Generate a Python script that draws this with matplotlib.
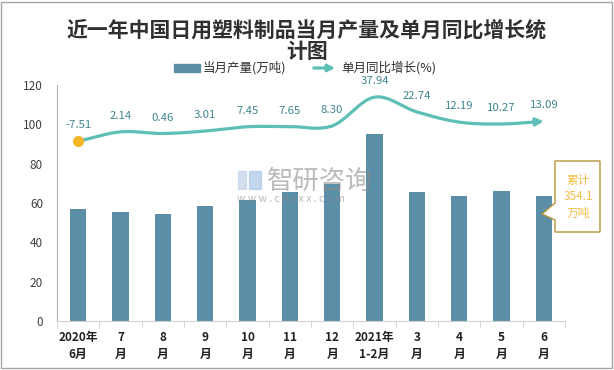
import numpy as np
import matplotlib
matplotlib.use('Agg')
import matplotlib.pyplot as plt
from matplotlib.patches import Polygon, Rectangle

plt.rcParams['font.family'] = ['Noto Sans CJK SC', 'DejaVu Sans']

# 数据
months = ['2020年\n6月', '7\n月', '8\n月', '9\n月', '10\n月', '11\n月', '12\n月',
          '2021年\n1-2月', '3\n月', '4\n月', '5\n月', '6\n月']
output = [56.9, 55.4, 54.4, 58.5, 61.5, 65.6, 69.6, 95.0, 65.5, 63.8, 66.3, 63.5]
growth = [-7.51, 2.14, 0.46, 3.01, 7.45, 7.65, 8.30, 37.94, 22.74, 12.19, 10.27, 13.09]
total_text = '累计\n354.1\n万吨'

bar_color = '#5b8fa8'
line_color = '#5dbfb5'
label_color = '#3f8590'
W, H = 614, 370


def fx(px):
    return px / W


def fy(py):
    return 1 - py / H


def smooth(x, y, n=24):
    # Catmull-Rom 平滑曲线
    x = np.asarray(x, float)
    y = np.asarray(y, float)
    px = np.concatenate([[2 * x[0] - x[1]], x, [2 * x[-1] - x[-2]]])
    py = np.concatenate([[2 * y[0] - y[1]], y, [2 * y[-1] - y[-2]]])
    xs, ys = [], []
    for i in range(1, len(px) - 2):
        t = np.linspace(0, 1, n, endpoint=False)
        for arr, out in ((px, xs), (py, ys)):
            p0, p1, p2, p3 = arr[i - 1], arr[i], arr[i + 1], arr[i + 2]
            out.extend(0.5 * (2 * p1 + (-p0 + p2) * t + (2 * p0 - 5 * p1 + 4 * p2 - p3) * t ** 2
                              + (-p0 + 3 * p1 - 3 * p2 + p3) * t ** 3))
    xs.append(x[-1])
    ys.append(y[-1])
    return np.array(xs), np.array(ys)


fig = plt.figure(figsize=(W / 100, H / 100), dpi=100)
ax = fig.add_axes([fx(57), fy(321), fx(565) - fx(57), fy(85) - fy(321)])

x = np.arange(len(months))
ax.bar(x, output, width=0.38, color=bar_color, zorder=2)
ax.set_xlim(-0.5, len(months) - 0.5)
ax.set_ylim(0, 120)
ax.set_yticks(range(0, 121, 20))
ax.tick_params(axis='y', length=0, labelsize=8.5, labelcolor='#404040', pad=10)
ax.set_xticks(x)
ax.set_xticklabels(months, fontsize=8.5, fontweight='bold', linespacing=1.45)
ax.tick_params(axis='x', length=0, pad=7, labelcolor='#202020')
ax.set_xticks(np.arange(-0.5, len(months), 1), minor=True)
ax.tick_params(axis='x', which='minor', length=5, color='#d0d0d0', direction='out')
for s in ['top', 'right']:
    ax.spines[s].set_visible(False)
ax.spines['left'].set_color('#b0b0b0')
ax.spines['bottom'].set_color('#d0d0d0')

# 同比增长折线(次坐标轴)
ax2 = ax.twinx()
ax2.set_ylim(-193, 50.5)
ax2.axis('off')
sx, sy = smooth(x, growth)
ax2.plot(sx[:-6], sy[:-6], color=line_color, lw=2.3, solid_capstyle='round', zorder=3)
ax2.annotate('', xy=(sx[-1], sy[-1]), xytext=(sx[-7], sy[-7]),
             arrowprops=dict(arrowstyle='-|>', color=line_color, lw=2.3, mutation_scale=11,
                             shrinkA=0, shrinkB=0))
ax2.plot(x[0], growth[0], 'o', color='#f2b526', ms=7, zorder=4)
for xi, g in zip(x, growth):
    ax2.annotate(f'{g:.2f}', (xi, g), xytext=(0, 11.5), textcoords='offset points',
                 ha='center', va='center', fontsize=8.2, color=label_color)

# 标题
fig.text(0.5, fy(30), '近一年中国日用塑料制品当月产量及单月同比增长统', ha='center', va='center',
         fontsize=15, fontweight='bold', color='#303030')
fig.text(0.5, fy(52), '计图', ha='center', va='center', fontsize=15, fontweight='bold', color='#303030')

# 图例
fig.patches.append(Rectangle((fx(174), fy(72)), fx(200) - fx(174), fy(64) - fy(72),
                             transform=fig.transFigure, color=bar_color))
fig.text(fx(203), fy(68), '当月产量(万吨)', ha='left', va='center', fontsize=9, color='#303030')
fig.add_artist(matplotlib.patches.FancyArrowPatch((fx(311), fy(68)), (fx(338), fy(68)),
                                                  transform=fig.transFigure, arrowstyle='-|>',
                                                  color=line_color, lw=2.3, mutation_scale=10))
fig.text(fx(341), fy(68), '单月同比增长(%)', ha='left', va='center', fontsize=9, color='#303030')

# 水印
fig.patches.append(Rectangle((fx(238), fy(189)), fx(8), fy(171) - fy(189),
                             transform=fig.transFigure, color='#c9d6ea', alpha=0.8))
fig.patches.append(Rectangle((fx(249), fy(189)), fx(12), fy(171) - fy(189),
                             transform=fig.transFigure, color='#a9c7e6', alpha=0.7))
fig.text(fx(267), fy(181), '智研咨询', ha='left', va='center', fontsize=19, color='#8c8c8c', alpha=0.6)
fig.text(fx(237), fy(199), 'w w w . c h y x x . c o m', ha='left', va='center', fontsize=7.5,
         color='#8c8c8c', alpha=0.6)

# 累计标注
pts = [(555, 161), (600, 161), (600, 232), (555, 232), (555, 220), (542, 214), (555, 203)]
fig.patches.append(Polygon([(fx(a), fy(b)) for a, b in pts], closed=True, transform=fig.transFigure,
                           facecolor='white', edgecolor='#b8923a', lw=1, zorder=5))
fig.text(fx(578), fy(197), total_text, ha='center', va='center', fontsize=8.5, color='#f3bd45',
         linespacing=1.35, zorder=6)

# 外框
fig.patches.append(Rectangle((fx(1), fy(368)), fx(611), fy(2) - fy(368), transform=fig.transFigure,
                             fill=False, edgecolor='#a6a6a6', lw=1))

fig.savefig('out.png', dpi=100)
